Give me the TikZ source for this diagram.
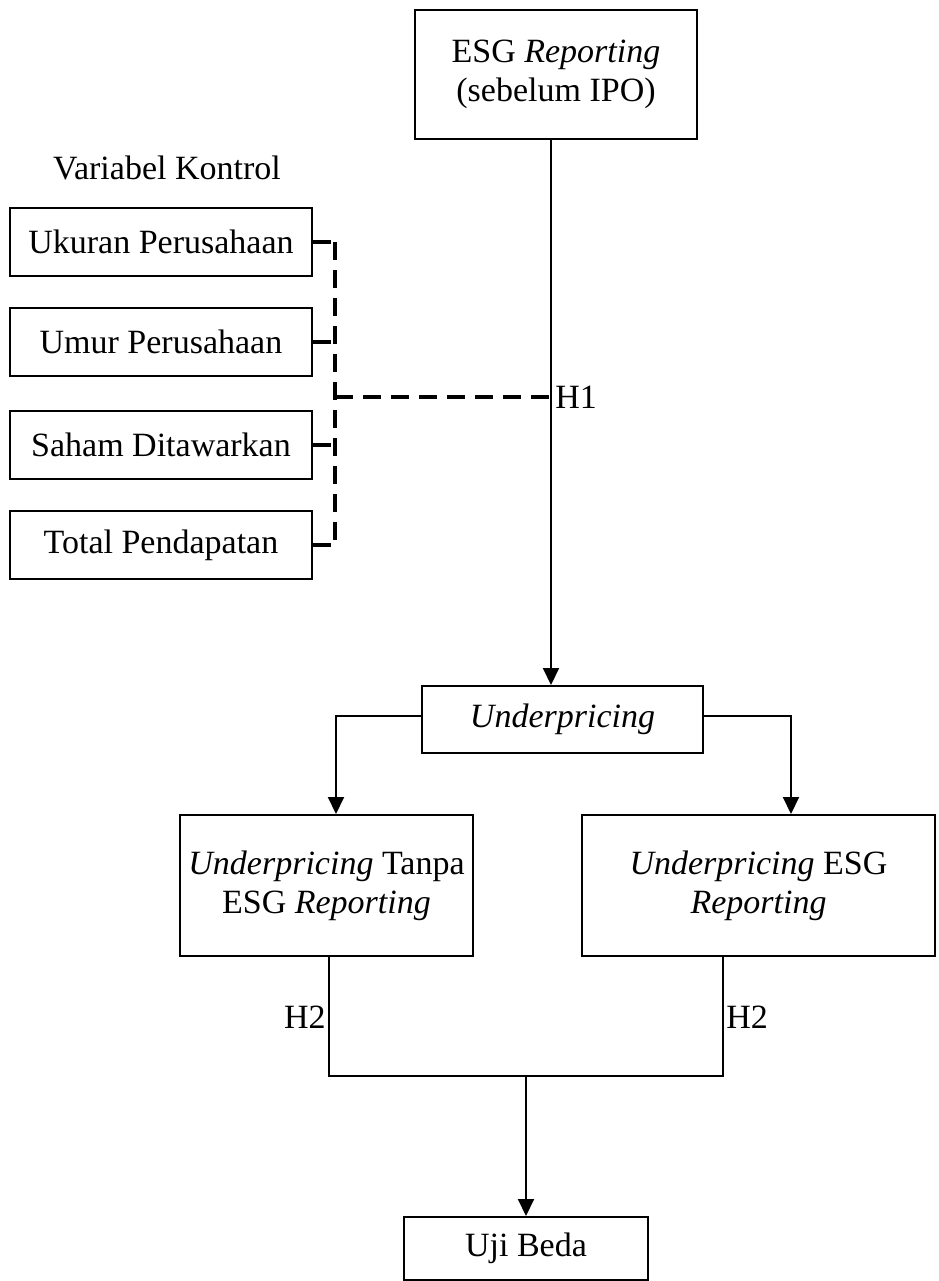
\documentclass[tikz,border=0pt]{standalone}
\usepackage{fontspec}
\setmainfont{Liberation Serif}
\usetikzlibrary{arrows.meta, positioning}
\tikzstyle{box} = [rectangle, draw=black, line width=1pt, align=center, inner sep=0pt]
\tikzstyle{arrow} = [line width=1pt, -{Triangle[length=8.5pt, width=8pt]}]
\tikzstyle{link} = [line width=1pt]
\tikzstyle{ctrl} = [line width=1.8pt, dash pattern=on 9pt off 5pt]

\begin{document}
\begin{tikzpicture}[x=0.5pt, y=-0.5pt, font=\fontsize{17}{19.5}\selectfont]
        \useasboundingbox (0,0) rectangle (938,1281);

        % Variabel independen
        \node[box, minimum width=141pt, minimum height=64.5pt] (esg) at (556,74.5) {ESG \textit{Reporting}\\(sebelum IPO)};

        % Variabel kontrol
        \node (kontrol) at (167,168) {Variabel Kontrol};
        \node[box, minimum width=151pt, minimum height=34pt] (ukuran) at (161,242) {Ukuran Perusahaan};
        \node[box, minimum width=151pt, minimum height=34pt] (umur) at (161,342) {Umur Perusahaan};
        \node[box, minimum width=151pt, minimum height=34pt] (saham) at (161,445) {Saham Ditawarkan};
        \node[box, minimum width=151pt, minimum height=34pt] (pendapatan) at (161,545) {Total Pendapatan};

        % Variabel dependen
        \node[box, minimum width=140.5pt, minimum height=33.5pt] (under) at (562.5,719.5) {\textit{Underpricing}};
        \node[box, minimum width=146.5pt, minimum height=70.5pt] (tanpa) at (326.5,885.5) {\textit{Underpricing} Tanpa\\ESG \textit{Reporting}};
        \node[box, minimum width=176.5pt, minimum height=70.5pt] (dengan) at (758.5,885.5) {\textit{Underpricing} ESG\\\textit{Reporting}};
        \node[box, minimum width=122pt, minimum height=31.5pt] (uji) at (526,1248.5) {Uji Beda};

        % Titik bantu
        \coordinate (h1) at (551,397);
        \coordinate (bus) at (335,397);
        \coordinate (bl) at (336,716);
        \coordinate (br) at (791,716);
        \coordinate (jl) at (329,1076);
        \coordinate (jr) at (723,1076);
        \coordinate (jm) at (526,1076);

        % H1
        \draw[arrow] (h1 |- esg.south) -- (h1 |- under.north);
        \node[anchor=west, inner sep=2pt] (labelh1) at (h1) {H1};

        % Garis putus-putus kontrol
        \draw[ctrl] (ukuran.east) -- (ukuran.east -| bus);
        \draw[ctrl] (umur.east) -- (umur.east -| bus);
        \draw[ctrl] (saham.east) -- (saham.east -| bus);
        \draw[ctrl] (pendapatan.east) -- (pendapatan.east -| bus);
        \draw[ctrl] (ukuran.east -| bus) -- (pendapatan.east -| bus);
        \draw[ctrl] (bus) -- (h1);

        % Cabang underpricing
        \draw[arrow] (under.west |- bl) -- (bl) -- (bl |- tanpa.north);
        \draw[arrow] (under.east |- br) -- (br) -- (br |- dengan.north);

        % H2
        \draw[link] (jl |- tanpa.south) -- (jl) -- (jr) -- (jr |- dengan.south);
        \draw[arrow] (jm) -- (uji.north);
        \node[anchor=east, inner sep=1.5pt] (labelh2a) at (329,1017) {H2};
        \node[anchor=west, inner sep=1.5pt] (labelh2b) at (723,1017) {H2};

    \end{tikzpicture}
\end{document}
